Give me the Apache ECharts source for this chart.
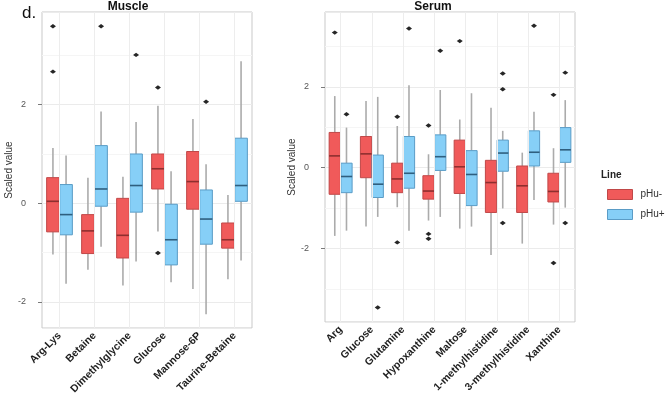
<!DOCTYPE html>
<html>
<head>
<meta charset="utf-8">
<script src="https://cdn.jsdelivr.net/npm/echarts@6/dist/echarts.min.js"></script>
<style>
  html, body { margin: 0; padding: 0; background: #fff; }
  #main { width: 670px; height: 404px; }
</style>
</head>
<body>
<div id="main"></div>
<script>
// box stats: [lower whisker, Q1, median, Q3, upper whisker]
var muscleCats = ['Arg-Lys', 'Betaine', 'Dimethylglycine', 'Glucose', 'Mannose-6P', 'Taurine-Betaine'];
var muscleLow = [
  [-1.04, -0.58, 0.04, 0.52, 1.12],
  [-1.35, -1.02, -0.56, -0.23, 0.52],
  [-1.67, -1.11, -0.65, 0.10, 0.54],
  [-0.57, 0.29, 0.70, 1.00, 1.98],
  [-1.74, -0.12, 0.44, 1.05, 1.71],
  [-1.54, -0.91, -0.74, -0.40, 0.17]
];
var muscleHigh = [
  [-1.63, -0.64, -0.23, 0.38, 0.97],
  [-0.88, -0.06, 0.29, 1.17, 1.86],
  [-1.18, -0.18, 0.36, 1.00, 1.65],
  [-1.60, -1.25, -0.74, -0.02, 0.65],
  [-2.25, -0.83, -0.32, 0.27, 0.79],
  [-1.16, 0.04, 0.36, 1.32, 2.88]
];
// outliers: [category index, value]
var muscleLowOut = [[0, 3.59], [0, 2.67], [3, 2.35], [3, -1.01]];
var muscleHighOut = [[1, 3.59], [2, 3.01], [4, 2.06]];

var serumCats = ['Arg', 'Glucose', 'Glutamine', 'Hypoxanthine', 'Maltose', '1-methylhistidine', '3-methylhistidine', 'Xanthine'];
var serumLow = [
  [-1.69, -0.66, 0.29, 0.87, 1.77],
  [-1.46, -0.25, 0.34, 0.77, 1.65],
  [-0.98, -0.62, -0.28, 0.11, 1.03],
  [-1.31, -0.78, -0.58, -0.20, 0.33],
  [-1.51, -0.64, 0.02, 0.68, 1.19],
  [-2.16, -1.11, -0.37, 0.18, 1.48],
  [-1.88, -1.11, -0.45, 0.04, 0.37],
  [-1.41, -0.85, -0.59, -0.14, 0.48]
];
var serumHigh = [
  [-1.56, -0.62, -0.22, 0.11, 0.99],
  [-1.22, -0.74, -0.41, 0.31, 1.75],
  [-1.56, -0.51, -0.14, 0.77, 2.04],
  [-1.22, -0.07, 0.27, 0.81, 1.92],
  [-1.46, -0.94, -0.17, 0.42, 1.84],
  [-1.01, -0.09, 0.36, 0.68, 0.91],
  [-0.80, 0.04, 0.38, 0.91, 1.38],
  [-0.99, 0.13, 0.44, 0.99, 1.67]
];
var serumLowOut = [[0, 3.34], [2, 1.26], [2, -1.85], [3, 1.04], [3, -1.64], [3, -1.76], [4, 3.13], [7, 1.80], [7, -2.36]];
var serumHighOut = [[0, 1.32], [1, -3.46], [2, 3.44], [3, 2.89], [5, 2.33], [5, 1.94], [5, -1.37], [6, 3.51], [7, 2.35], [7, -1.37]];

var RED = '#f05a5a', RED_LINE = '#c04848', RED_MID = '#8e2f2f';
var BLUE = '#86cff7', BLUE_LINE = '#5a9cc6', BLUE_MID = '#2f5f7f';
var FONT = '"Liberation Sans", Arial, sans-serif';

var chart = echarts.init(document.getElementById('main'));

function withIndex(rows) {
  return rows.map(function (r, i) { return [i].concat(r); });
}

function boxRenderer(side, fill, stroke, mid) {
  return function (params, api) {
    var c = api.value(0);
    var band = api.size([1, 0])[0];
    var x = api.coord([c, 0])[0] + side * band * 0.1875;
    var hw = band * 0.18;
    var yLo = api.coord([c, api.value(1)])[1];
    var yQ1 = api.coord([c, api.value(2)])[1];
    var yMd = api.coord([c, api.value(3)])[1];
    var yQ3 = api.coord([c, api.value(4)])[1];
    var yHi = api.coord([c, api.value(5)])[1];
    var wStyle = { stroke: '#ababab', lineWidth: 1.6 };
    return {
      type: 'group',
      children: [
        { type: 'line', shape: { x1: x, y1: yHi, x2: x, y2: yQ3 }, style: wStyle },
        { type: 'line', shape: { x1: x, y1: yQ1, x2: x, y2: yLo }, style: wStyle },
        { type: 'rect', shape: { x: x - hw, y: yQ3, width: hw * 2, height: yQ1 - yQ3 },
          style: { fill: fill, stroke: stroke, lineWidth: 1 } },
        { type: 'line', shape: { x1: x - hw, y1: yMd, x2: x + hw, y2: yMd },
          style: { stroke: mid, lineWidth: 1.6 } }
      ]
    };
  };
}

function outlierRenderer(side) {
  return function (params, api) {
    var c = api.value(0);
    var band = api.size([1, 0])[0];
    var p = api.coord([c, api.value(1)]);
    var x = p[0] + side * band * 0.1875, y = p[1];
    return {
      type: 'polygon',
      shape: { points: [[x - 3, y], [x, y - 2.2], [x + 3, y], [x, y + 2.2]] },
      style: { fill: '#262626' }
    };
  };
}

function gridLines(cats, idx) {
  return {
    type: 'line', xAxisIndex: idx, yAxisIndex: idx, data: [], z: 0, silent: true,
    markLine: {
      silent: true, symbol: 'none', label: { show: false },
      lineStyle: { color: '#ededed', width: 1, type: 'solid' },
      data: cats.map(function (c) { return { xAxis: c }; })
    }
  };
}

function xAxisOf(cats, idx) {
  return {
    type: 'category', gridIndex: idx, data: cats,
    axisLine: { show: false },
    axisTick: { show: true, alignWithLabel: true, length: 4, lineStyle: { color: '#7a7a7a' } },
    axisLabel: { rotate: 45, margin: 6, interval: 0, fontFamily: FONT, fontSize: 10.5,
      fontWeight: 'bold', color: '#1e1e1e' },
    splitLine: { show: false }
  };
}

function yAxisOf(idx, min, max, split, gap) {
  return {
    type: 'value', gridIndex: idx, min: min, max: max, splitNumber: split,
    name: 'Scaled value', nameLocation: 'middle', nameGap: gap,
    nameTextStyle: { fontFamily: FONT, fontSize: 10, color: '#333' },
    axisLine: { show: false },
    axisTick: { show: true, length: 4, lineStyle: { color: '#7a7a7a' } },
    axisLabel: { margin: 16, fontFamily: FONT, fontSize: 9, color: '#555',
      showMinLabel: false, showMaxLabel: false },
    splitLine: { lineStyle: { color: '#ebebeb' } },
    minorTick: { show: false, splitNumber: 2 },
    minorSplitLine: { show: true, lineStyle: { color: '#f5f5f5' } }
  };
}

function boxSeries(name, rows, idx, side, fill, stroke, mid) {
  return {
    name: name, type: 'custom', xAxisIndex: idx, yAxisIndex: idx, z: 2,
    itemStyle: { color: fill, borderColor: stroke },
    renderItem: boxRenderer(side, fill, stroke, mid),
    encode: { x: 0, y: [1, 2, 3, 4, 5] },
    data: withIndex(rows)
  };
}

function outSeries(name, pts, idx, side) {
  return {
    name: name, type: 'custom', xAxisIndex: idx, yAxisIndex: idx, z: 3,
    renderItem: outlierRenderer(side),
    encode: { x: 0, y: 1 },
    data: pts
  };
}

chart.setOption({
  animation: false,
  grid: [
    { left: 42, top: 12, width: 210, height: 316, show: true, borderColor: '#c9c9c9', borderWidth: 1, backgroundColor: '#fff' },
    { left: 325, top: 12, width: 250, height: 310, show: true, borderColor: '#c9c9c9', borderWidth: 1, backgroundColor: '#fff' }
  ],
  xAxis: [xAxisOf(muscleCats, 0), xAxisOf(serumCats, 1)],
  yAxis: [yAxisOf(0, -2.53, 3.88, 3, 21), yAxisOf(1, -3.82, 3.85, 4, 17)],
  legend: {
    orient: 'vertical', left: 602, top: 184, itemWidth: 25, itemHeight: 10, itemGap: 9,
    textStyle: { fontFamily: FONT, fontSize: 10, color: '#333', padding: [0, 0, 0, 3] },
    data: [
      { name: 'pHu-', icon: 'rect', itemStyle: { color: RED, borderColor: RED_LINE, borderWidth: 1 } },
      { name: 'pHu+', icon: 'rect', itemStyle: { color: BLUE, borderColor: BLUE_LINE, borderWidth: 1 } }
    ]
  },
  graphic: [
    { type: 'text', left: 22, top: 5, style: { text: 'd.', font: '17px ' + FONT, fill: '#111' } },
    { type: 'text', x: 128, y: 7, style: { text: 'Muscle', font: 'bold 12px ' + FONT, fill: '#111', textAlign: 'center', textVerticalAlign: 'middle' } },
    { type: 'text', x: 433, y: 7, style: { text: 'Serum', font: 'bold 12px ' + FONT, fill: '#111', textAlign: 'center', textVerticalAlign: 'middle' } },
    { type: 'text', x: 601, y: 175, style: { text: 'Line', font: 'bold 10px ' + FONT, fill: '#222', textVerticalAlign: 'middle' } }
  ],
  series: [
    gridLines(muscleCats, 0),
    gridLines(serumCats, 1),
    boxSeries('pHu-', muscleLow, 0, -1, RED, RED_LINE, RED_MID),
    boxSeries('pHu+', muscleHigh, 0, 1, BLUE, BLUE_LINE, BLUE_MID),
    boxSeries('pHu-', serumLow, 1, -1, RED, RED_LINE, RED_MID),
    boxSeries('pHu+', serumHigh, 1, 1, BLUE, BLUE_LINE, BLUE_MID),
    outSeries('pHu-', muscleLowOut, 0, -1),
    outSeries('pHu+', muscleHighOut, 0, 1),
    outSeries('pHu-', serumLowOut, 1, -1),
    outSeries('pHu+', serumHighOut, 1, 1)
  ]
});
</script>
</body>
</html>
